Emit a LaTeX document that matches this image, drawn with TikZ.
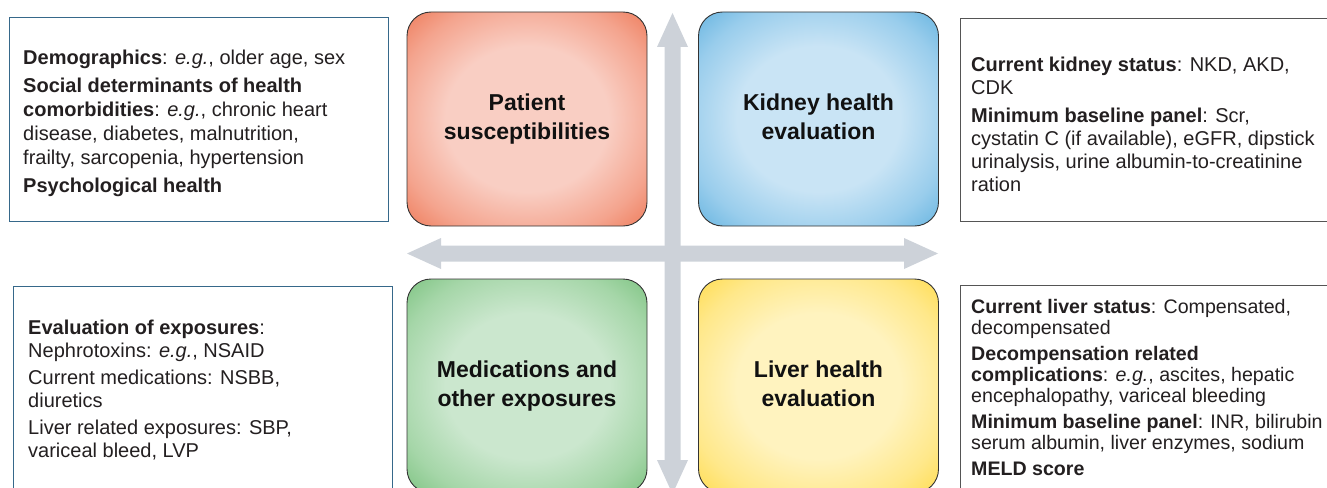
\documentclass[tikz,border=0pt]{standalone}
\usepackage{fontspec}
\setmainfont{Liberation Sans}
\definecolor{arrowgray}{HTML}{CDD2D9}
\definecolor{textc}{HTML}{231F20}
\definecolor{titlec}{HTML}{111111}
\definecolor{boxline}{HTML}{333333}
\definecolor{frameblue}{HTML}{36688A}
\definecolor{framegray}{HTML}{555555}
\definecolor{oin}{HTML}{F9CEC3}
\definecolor{omid}{HTML}{F4A48E}
\definecolor{oout}{HTML}{EE7B5A}
\definecolor{bin}{HTML}{C9E4F5}
\definecolor{bmid}{HTML}{99CDEC}
\definecolor{bout}{HTML}{66B4E0}
\definecolor{gin}{HTML}{CBE7CE}
\definecolor{gmid}{HTML}{A5D6A8}
\definecolor{gout}{HTML}{7DC381}
\definecolor{yin}{HTML}{FFF3BF}
\definecolor{ymid}{HTML}{FFE88A}
\definecolor{yout}{HTML}{FFDC50}
\pgfdeclareradialshading{glowO}{\pgfpoint{0bp}{0bp}}{color(0bp)=(oin); color(17bp)=(oin); color(28bp)=(omid); color(36bp)=(oout); color(50bp)=(oout)}
\pgfdeclareradialshading{glowB}{\pgfpoint{0bp}{0bp}}{color(0bp)=(bin); color(17bp)=(bin); color(28bp)=(bmid); color(36bp)=(bout); color(50bp)=(bout)}
\pgfdeclareradialshading{glowG}{\pgfpoint{0bp}{0bp}}{color(0bp)=(gin); color(17bp)=(gin); color(28bp)=(gmid); color(36bp)=(gout); color(50bp)=(gout)}
\pgfdeclareradialshading{glowY}{\pgfpoint{0bp}{0bp}}{color(0bp)=(yin); color(17bp)=(yin); color(28bp)=(ymid); color(36bp)=(yout); color(50bp)=(yout)}
\begin{document}
\begin{tikzpicture}[x=1pt,y=-1pt,
  txt/.style={font=\fontsize{20}{#1}\selectfont, text=textc, align=left, inner sep=0pt, anchor=north west},
  tframe/.style={draw=#1, line width=1pt},
  cbox/.style={draw=boxline, line width=0.9pt, rounded corners=24pt, minimum width=240pt, minimum height=214pt, inner sep=0pt, font=\fontsize{23}{29}\selectfont\bfseries, align=center, text=titlec},
  arr/.style={fill=arrowgray, draw=none}]
\useasboundingbox (0,0) rectangle (1327,487);
\clip (0,0) rectangle (1327,487);
% cross arrows
\coordinate (ctr) at (672.5,253.5);
\fill[arr] (664.5,47) -- (657,47) -- (672.5,13) -- (688,47) -- (680.5,47)
  -- (680.5,460) -- (688,460) -- (672.5,494) -- (657,460) -- (664.5,460) -- cycle;
\fill[arr] (441,245.5) -- (441,238) -- (407,253.5) -- (441,269) -- (441,261.5)
  -- (904,261.5) -- (904,269) -- (938,253.5) -- (904,238) -- (904,245.5) -- cycle;
% central boxes
\node[cbox, shade, shading=glowO] (pat) at (527,119) {Patient\strut\\susceptibilities\strut};
\node[cbox, shade, shading=glowB] (kid) at (818.5,119) {Kidney health\strut\\evaluation\strut};
\node[cbox, shade, shading=glowG] (med) at (527,386) {Medications and\strut\\other exposures\strut};
\node[cbox, shade, shading=glowY] (liv) at (818.5,386) {Liver health\strut\\evaluation\strut};
% text frames
\draw[tframe=frameblue] (9,18) rectangle (388,221);
\draw[tframe=framegray] (960,19) rectangle (1340,221);
\draw[tframe=frameblue] (13,286) rectangle (392,500);
\draw[tframe=framegray] (960,285) rectangle (1340,500);
% texts
\node[txt=24] (tl) at (23,49.5) {\textbf{Demographics}: \textit{e.g.}, older age, sex\\[4pt]
\textbf{Social determinants of health}\\
\textbf{comorbidities}: \textit{e.g.}, chronic heart\\
disease, diabetes, malnutrition,\\
frailty, sarcopenia, hypertension\\[4pt]
\textbf{Psychological health}};
\node[txt=23] (tr) at (971,56.5) {\textbf{Current kidney status}: NKD, AKD,\\
CDK\\[5pt]
\textbf{Minimum baseline panel}: Scr,\\
cystatin C (if available), eGFR, dipstick\\
urinalysis, urine albumin-to-creatinine\\
ration};
\node[txt=23] (bl) at (28,319.5) {\textbf{Evaluation of exposures}:\\
Nephrotoxins: \textit{e.g.}, NSAID\\[4pt]
Current medications: NSBB,\\
diuretics\\[4pt]
Liver related exposures: SBP,\\
variceal bleed, LVP};
\node[txt=21, font=\fontsize{19.6}{21}\selectfont] (br) at (971,299.5) {\textbf{Current liver status}: Compensated,\\
decompensated\\[5pt]
\textbf{Decompensation related}\\
\textbf{complications}: \textit{e.g.}, ascites, hepatic\\
encephalopathy, variceal bleeding\\[5pt]
\textbf{Minimum baseline panel}: INR, bilirubin\\
serum albumin, liver enzymes, sodium\\[5pt]
\textbf{MELD score}};
\end{tikzpicture}
\end{document}
